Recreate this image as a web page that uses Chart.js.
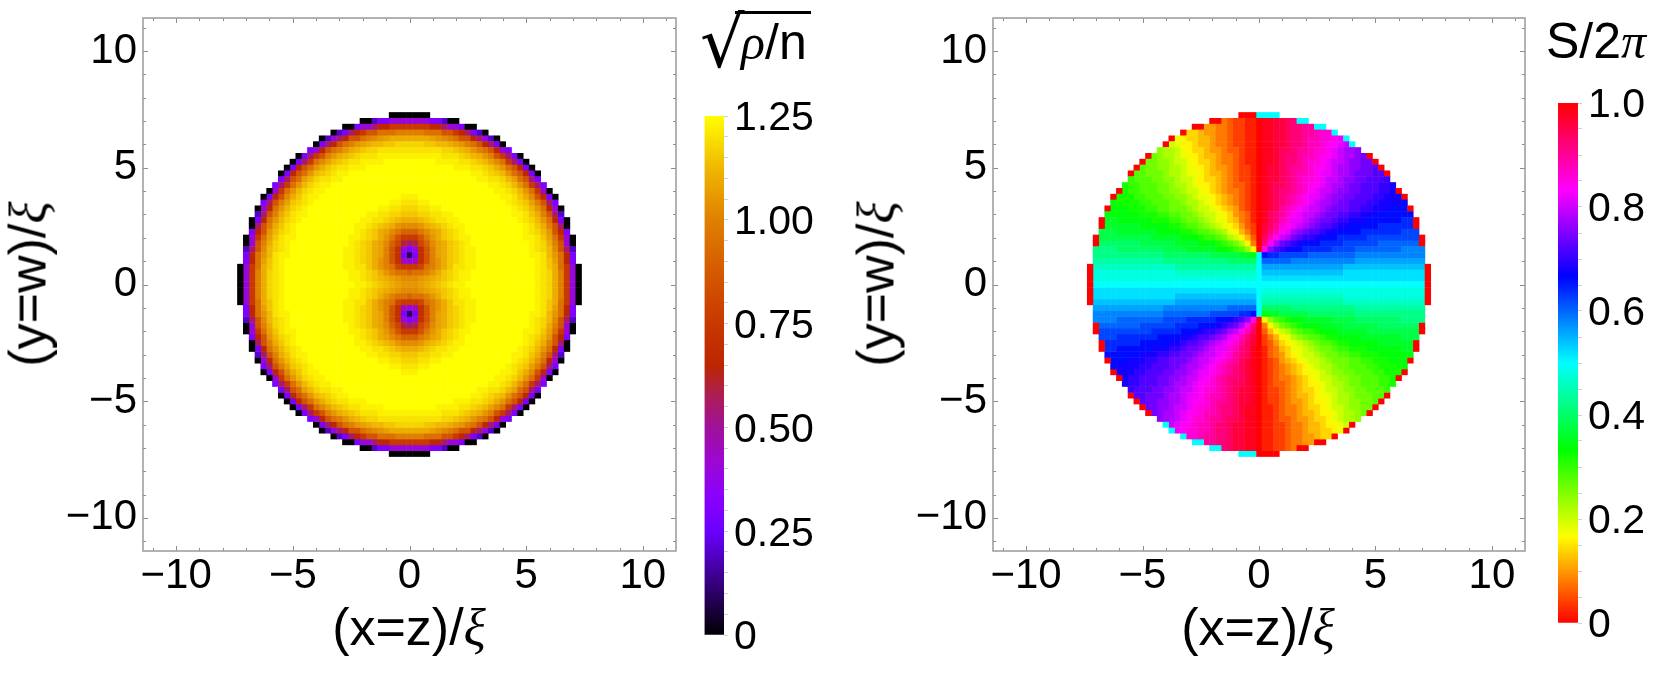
<!DOCTYPE html>
<html>
<head>
<meta charset="utf-8">
<script src="https://cdn.jsdelivr.net/npm/chart.js@4/dist/chart.umd.min.js"></script>
<style>
html, body { margin: 0; padding: 0; background: #fff; }
body { width: 1661px; height: 674px; position: relative; overflow: hidden; }
.box { position: absolute; top: 0; height: 674px; }
.label { position: absolute; color: #000; font-family: "Liberation Sans", sans-serif; font-size: 52px; line-height: 1; white-space: nowrap; }
.label i { font-family: "Liberation Serif", serif; }
.vert { transform: translate(-50%, -50%) rotate(-90deg); }
.horz { transform: translate(-50%, 0); }
#rootBar { position: absolute; left: 735px; top: 11px; width: 76px; height: 3px; background: #000; }
</style>
</head>
<body>
<div class="box" style="left:0;width:690px"><canvas id="densityMap"></canvas></div>
<div class="box" style="left:690px;width:140px"><canvas id="densityBar"></canvas></div>
<div class="box" style="left:890px;width:650px"><canvas id="phaseMap"></canvas></div>
<div class="box" style="left:1540px;width:121px"><canvas id="phaseBar"></canvas></div>

<div class="label horz" style="left:409px;top:601px">(x=z)/<i>ξ</i></div>
<div class="label vert" style="left:28px;top:284px">(y=w)/<i>ξ</i></div>
<div class="label horz" style="left:1258px;top:601px">(x=z)/<i>ξ</i></div>
<div class="label vert" style="left:876px;top:284px">(y=w)/<i>ξ</i></div>
<div class="label" style="left:700px;top:8px;font-size:70px;font-family:'DejaVu Sans'">√</div>
<div id="rootBar"></div>
<div class="label" style="left:741px;top:17px;font-size:50px"><i>ρ</i>/n</div>
<div class="label" style="left:1546px;top:16px;font-size:50px">S/2<i>π</i></div>

<script>
// frame ticks, both maps
const axisTicks = [-10, -5, 0, 5, 10];
const minorTicks = [-11, -9, -8, -7, -6, -4, -3, -2, -1, 1, 2, 3, 4, 6, 7, 8, 9, 11];
const axisRange = 11.42;
const cellStep = 0.25;

// colour bars
const densityTicks = [0, 0.25, 0.5, 0.75, 1, 1.25];
const densityLabels = ['0', '0.25', '0.50', '0.75', '1.00', '1.25'];
const phaseTicks = [0, 0.2, 0.4, 0.6, 0.8, 1];
const phaseLabels = ['0', '0.2', '0.4', '0.6', '0.8', '1.0'];

const densityStops = [0, 0.125, 0.25, 0.33, 0.42, 0.5, 0.58, 0.65, 0.75, 0.875, 1, 1.12, 1.25];
const densityColors = ['#000000', '#36007f', '#6a00ff', '#8a00ff', '#9c08d0', '#a0109a', '#ad1f50', '#bc2600',
    '#c83800', '#d45a00', '#e08000', '#efb500', '#ffff00'];
const phaseStops = [0, 1 / 6, 1 / 3, 1 / 2, 2 / 3, 5 / 6, 1];
const phaseColors = ['#ff0000', '#ffff00', '#00ff00', '#00ffff', '#0000ff', '#ff00ff', '#ff0000'];

// Values. Both maps are mirror symmetric, so only the quadrant
// x<=0, y>=0 is kept: first row is y=+29 cells, first letter of a row is x=0, going out.
// a=0.00 b=0.05 c=0.10 ... z=1.25, a capital is the half step above (Y=1.225)
const densityRows = [
    'aaaa',
    'iiiiggeaa',
    'ppppnnliigaa',
    'uuutttrrpnlgea',
    'wwwwVvUutrrnliea',
    'XXXxxWWwVvutrnlga',
    'yyyyyyXXxWwvutrnig',
    'YYYYYYyyyXxWwvurplga',
    'zzzzzYYYYyyXxWVUtplga',
    'zzzzzzzzYYYyyXxwvtrnga',
    'zzzzzzzzzzzYYyXxWvtrnga',
    'zzzzzzzzzzzzYYyyXWVtrlg',
    'zzzzzzzzzzzzzzYYyXWvtplg',
    'zzzzzzzzzzzzzzzYYyXWvtpia',
    'YYzzzzzzzzzzzzzzYYyxwUrnga',
    'yyYYzzzzzzzzzzzzzYyXxVurlg',
    'XXyyYYzzzzzzzzzzzzYyXWvtnia',
    'xxXXyyYYzzzzzzzzzzYYyxwurle',
    'wwWxXyyYYzzzzzzzzzzYyXWvtnga',
    'UUvwWxXyYYzzzzzzzzzzYyxwurla',
    'ssTUVwxXyYzzzzzzzzzzYyXWvrng',
    'pprTvwxXyYYzzzzzzzzzYYyxVtpia',
    'lmqsUVwxXyYzzzzzzzzzzYyXwuria',
    'gioruVwxXyYYzzzzzzzzzYyXWUrle',
    'cgoruVwxXyYYzzzzzzzzzYYyWvtng',
    'ijoruvwxXyYYzzzzzzzzzzYyxVtng',
    'ppqtuvwxyyYYzzzzzzzzzzYyxwtpia',
    'sttuvwxXyYYzzzzzzzzzzzYyXwupia',
    'UUvVwWxXyYYzzzzzzzzzzzYyXwupia',
    'vvVwWxXyYYzzzzzzzzzzzzYyXwupia'
];

// a=0.00 b=0.02 c=0.04 ... z=0.50, the other two quadrants read as 1-S
const phaseRows = [
    'aaaa',
    'abbccdeaa',
    'abbccdeeffaa',
    'abbccdeeffghha',
    'abbccdeefgghhija',
    'abbccdeefgghiijka',
    'abbcddeffghhijkllm',
    'abbcdeefgghiijkllmna',
    'abbcdeefghhijkklmmnna',
    'abccdeffghiijkllmmnnoa',
    'abccdefgghijjkllmnnnooa',
    'abccdefghhijkklmmnnooop',
    'abcddefghiijkllmnnoooppq',
    'abcdeefghijkklmmnnoooppqa',
    'abcdefghijjklmmnnoooppqqqa',
    'abcdefghijkllmnnoooppqqqqr',
    'abcdfghijkklmnnnooppqqqrrra',
    'abdefhijkklmnnooppqqqrrrrrr',
    'abdeghjjklmnnoppqqqrrrrrrssa',
    'acdfhijklmnoopqqrrrrrssssssa',
    'acegijlmnoopqqrrrrsssssssttt',
    'adgiklnoppqrrrsssssttttttttta',
    'aeilnopqrrrssssttttttuuuuuuua',
    'aimopqrrssssstttt' + 'uuuuuuuuvvvv',
    'zrssttttt' + 'uuuuuuuuvvvvvvvvvvvv',
    'zuuuuuvvvvvvvvvvvwwwwwwwwwwww',
    'zwwwwwwwwwwwwwwxxxxxxxxxxxxxxa',
    'zxxxxxxxxxxxxxxyyyyyyyyyyyyyya',
    'zyyyyyyyyyyyyyyyyyyyyyyyyyyyya',
    'zzzzzzzzzzzzzzzzzzzzzzzzzzzzza'
];

// rim cells that show cyan in the upper right and lower left (column, row in cells)
const phaseCyanRim = ['0:29', '1:29', '2:29', '3:29', '7:28', '8:28', '10:27', '11:27', '13:26', '15:25', '16:24'];

function hexToRgb(hex) {
    return [1, 3, 5].map(k => parseInt(hex.slice(k, k + 2), 16));
}

function colorAt(value, stops, colors) {
    let k = 0;
    while (k < stops.length - 2 && value > stops[k + 1]) k++;
    const t = Math.min(1, Math.max(0, (value - stops[k]) / (stops[k + 1] - stops[k])));
    const a = hexToRgb(colors[k]);
    const b = hexToRgb(colors[k + 1]);
    return `rgb(${a.map((c, n) => Math.round(c + (b[n] - c) * t)).join(',')})`;
}

function densityValue(ch) {
    const lower = ch.toLowerCase();
    const half = ch === lower ? 0 : 0.025;
    return (lower.charCodeAt(0) - 97) * 0.05 + half;
}

function densityCells() {
    const points = [];
    const colors = [];
    densityRows.forEach((row, r) => {
        const rowIdx = 29 - r;
        [...row].forEach((ch, col) => {
            const value = densityValue(ch);
            for (const sx of col === 0 ? [1] : [-1, 1]) {
                for (const sy of rowIdx === 0 ? [1] : [1, -1]) {
                    points.push({ x: sx * col * cellStep, y: sy * rowIdx * cellStep });
                    colors.push(colorAt(value, densityStops, densityColors));
                }
            }
        });
    });
    return { points, colors };
}

function phaseCells() {
    const points = [];
    const colors = [];
    phaseRows.forEach((row, r) => {
        const rowIdx = 29 - r;
        [...row].forEach((ch, col) => {
            const value = (ch.charCodeAt(0) - 97) * 0.02;
            const rim = phaseCyanRim.includes(col + ':' + rowIdx);
            for (const sx of col === 0 ? [1] : [-1, 1]) {
                for (const sy of rowIdx === 0 ? [1] : [1, -1]) {
                    const other = (sx > 0 && col > 0 && sy > 0) || (sx < 0 && sy < 0);
                    let s = other ? 1 - value : value;
                    if (rim && (other || (col === 0 && sy > 0))) s = 0.5;
                    points.push({ x: sx * col * cellStep, y: sy * rowIdx * cellStep });
                    colors.push(colorAt(s, phaseStops, phaseColors));
                }
            }
        });
    });
    return { points, colors };
}

// Mathematica style frame with the ticks pointing in
const frameTicks = {
    id: 'frameTicks',
    afterDatasetsDraw(chart) {
        const { ctx, chartArea: a, scales: { x, y } } = chart;
        ctx.save();
        ctx.lineWidth = 1;
        ctx.strokeStyle = '#8c8c8c';
        const mark = (list, len) => {
            list.forEach(v => {
                const px = Math.round(x.getPixelForValue(v)) + 0.5;
                const py = Math.round(y.getPixelForValue(v)) + 0.5;
                ctx.beginPath();
                ctx.moveTo(px, a.bottom); ctx.lineTo(px, a.bottom - len);
                ctx.moveTo(px, a.top); ctx.lineTo(px, a.top + len);
                ctx.moveTo(a.left, py); ctx.lineTo(a.left + len, py);
                ctx.moveTo(a.right, py); ctx.lineTo(a.right - len, py);
                ctx.stroke();
            });
        };
        mark(axisTicks, 5);
        mark(minorTicks, 3);
        ctx.lineWidth = 1.5;
        ctx.strokeStyle = '#9a9a9a';
        ctx.strokeRect(a.left, a.top, a.right - a.left, a.bottom - a.top);
        ctx.restore();
    }
};

function tickText(v) {
    return String(v).replace('-', '\u2212');
}

function makeMap(id, cells, leftEdge, rightPad) {
    const fixTicks = scale => { scale.ticks = axisTicks.map(v => ({ value: v })); };
    const tickFont = { family: '"Liberation Sans"', size: 42 };
    return new Chart(document.getElementById(id), {
        type: 'scatter',
        data: {
            datasets: [{
                data: cells.points,
                pointStyle: 'rect',
                pointBackgroundColor: cells.colors,
                pointBorderWidth: 0,
                pointRadius: ctx => {
                    const s = ctx.chart.scales.x;
                    return (s.getPixelForValue(cellStep) - s.getPixelForValue(0) + 0.5) * Math.SQRT1_2;
                }
            }]
        },
        options: {
            responsive: false,
            animation: false,
            events: [],
            layout: { padding: { top: 18, right: rightPad, left: 0, bottom: 0 } },
            plugins: { legend: { display: false }, tooltip: { enabled: false } },
            scales: {
                x: {
                    type: 'linear',
                    min: -axisRange,
                    max: axisRange,
                    afterBuildTicks: fixTicks,
                    afterFit: s => { s.height = 123; s.paddingLeft = 0; s.paddingRight = 0; },
                    grid: { display: false, drawTicks: false },
                    border: { display: false },
                    ticks: { callback: tickText, font: tickFont, color: '#000', maxRotation: 0, autoSkip: false, padding: 0 }
                },
                y: {
                    type: 'linear',
                    min: -axisRange,
                    max: axisRange,
                    afterBuildTicks: fixTicks,
                    afterFit: s => { s.width = leftEdge; s.paddingTop = 0; s.paddingBottom = 0; },
                    grid: { display: false, drawTicks: false },
                    border: { display: false },
                    ticks: { callback: tickText, font: tickFont, color: '#000', autoSkip: false, padding: 6 }
                }
            }
        },
        plugins: [frameTicks]
    });
}

function makeBar(id, maxValue, step, ticks, labels, stops, colors, padding, axisWidth) {
    const barTicks = [];
    for (let k = 0; k <= Math.round(maxValue / step); k++) barTicks.push(k * step);
    return new Chart(document.getElementById(id), {
        type: 'bar',
        data: {
            labels: [''],
            datasets: [{
                data: [[0, maxValue]],
                barPercentage: 1,
                categoryPercentage: 1,
                backgroundColor: ctx => {
                    const y = ctx.chart.scales.y;
                    if (!ctx.chart.chartArea || !y) return colors[0];
                    const y0 = y.getPixelForValue(0);
                    const y1 = y.getPixelForValue(maxValue);
                    if (!Number.isFinite(y0) || !Number.isFinite(y1)) return colors[0];
                    const grad = ctx.chart.ctx.createLinearGradient(0, y0, 0, y1);
                    stops.forEach((v, k) => grad.addColorStop(v / maxValue, colors[k]));
                    return grad;
                }
            }]
        },
        options: {
            responsive: false,
            animation: false,
            events: [],
            layout: { padding },
            plugins: { legend: { display: false }, tooltip: { enabled: false } },
            scales: {
                x: { display: false },
                y: {
                    position: 'right',
                    min: 0,
                    max: maxValue,
                    afterBuildTicks: s => { s.ticks = barTicks.map(v => ({ value: v })); },
                    afterFit: s => { s.width = axisWidth; s.paddingTop = 0; s.paddingBottom = 0; },
                    grid: { drawOnChartArea: false, tickLength: 4, tickColor: '#d0d0d0' },
                    border: { display: false },
                    ticks: {
                        font: { family: '"Liberation Sans"', size: 41 },
                        color: '#000',
                        autoSkip: false,
                        padding: 6,
                        labelOffset: 3,
                        callback: v => {
                            const k = ticks.findIndex(t => Math.abs(t - v) < 1e-6);
                            return k < 0 ? '' : labels[k];
                        }
                    }
                }
            }
        }
    });
}

function sizeCanvas(id, w, h) {
    const c = document.getElementById(id);
    c.width = w;
    c.height = h;
    c.style.width = w + 'px';
    c.style.height = h + 'px';
}

sizeCanvas('densityMap', 690, 674);
sizeCanvas('densityBar', 140, 674);
sizeCanvas('phaseMap', 650, 674);
sizeCanvas('phaseBar', 121, 674);

makeMap('densityMap', densityCells(), 143, 14);
makeMap('phaseMap', phaseCells(), 103, 15);
makeBar('densityBar', 1.25, 0.05, densityTicks, densityLabels, densityStops, densityColors,
    { top: 116, bottom: 39, left: 14.5, right: 0 }, 106);
makeBar('phaseBar', 1, 0.05, phaseTicks, phaseLabels, phaseStops, phaseColors,
    { top: 103, bottom: 51, left: 18, right: 0 }, 83);
</script>
</body>
</html>
